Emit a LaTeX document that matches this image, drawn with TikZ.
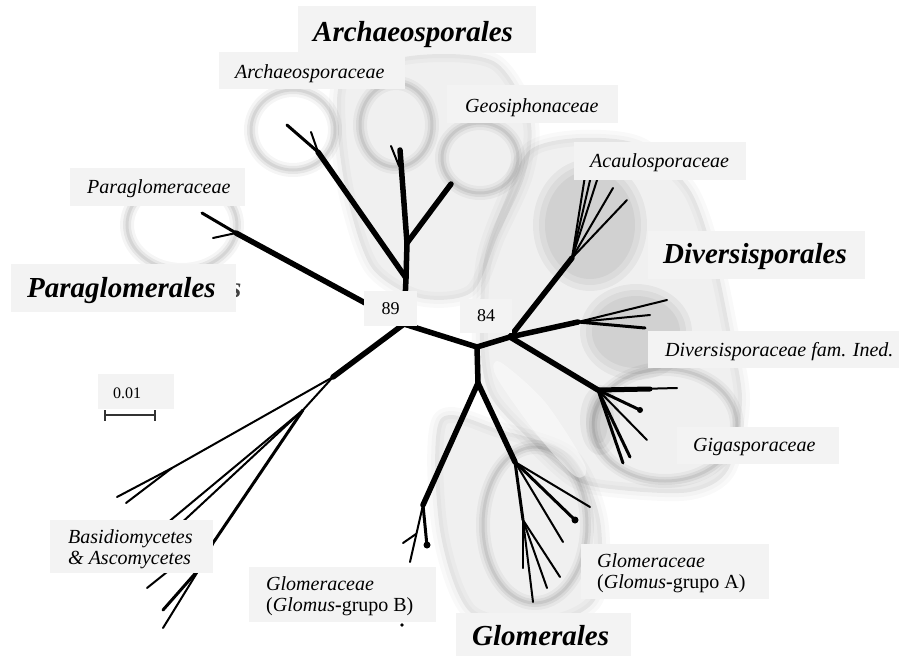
\documentclass[tikz,border=0pt]{standalone}
\usepackage{fontspec}
\setmainfont{Liberation Serif}
\definecolor{boxgray}{RGB}{243,243,243}
\newcommand{\softell}[4]{%
  \foreach \d in {0,6,12} {\fill[black, opacity=0.045] (#1,#2) ellipse [x radius=#3-\d, y radius=#4-\d];}}
\newcommand{\softring}[4]{%
  \foreach \w/\o in {14/0.04, 8/0.06, 3/0.07} {\draw[black, opacity=\o, line width=\w pt] (#1,#2) ellipse [x radius=#3, y radius=#4];}}
\newcommand{\softregion}[1]{%
  \foreach \w/\o in {16/0.025, 8/0.025} {\draw[black, opacity=\o, line width=\w pt, line join=round] plot[smooth cycle] coordinates {#1};}
  \fill[black, opacity=0.06] plot[smooth cycle] coordinates {#1};}
\begin{document}
\begin{tikzpicture}[x=1pt,y=-1pt,
  br/.style={line width=5.5pt, line cap=round, line join=round},
  mid/.style={line width=3pt, line cap=round, line join=round},
  tw/.style={line width=2pt, line cap=round, line join=round},
  lab/.style={fill=boxgray},
  fam/.style={font=\fontsize{20}{22}\selectfont\itshape, anchor=base west, inner sep=0pt},
  famup/.style={font=\fontsize{20}{22}\selectfont, anchor=base west, inner sep=0pt},
  ord/.style={font=\fontsize{29}{31}\selectfont\bfseries\itshape, anchor=base west, inner sep=0pt},
  num/.style={font=\fontsize{18}{20}\selectfont, inner sep=0pt},
]
\useasboundingbox (0,0) rectangle (899,656);
\fill[white] (0,0) rectangle (899,656);

% ---------- background shading ----------
% top cluster
\softregion{(345,75) (420,55) (495,62) (530,120) (525,175) (498,235) (472,292) (420,298) (372,268) (348,200) (338,130)}
\softring{293}{130}{42}{40}
\softring{396}{125}{36}{42}
\softring{480}{158}{38}{35}
% Paraglomeraceae
\softring{182}{225}{55}{45}
% Diversisporales region
\softregion{(530,150) (580,138) (640,145) (690,190) (715,260) (730,330) (742,400) (728,470) (690,492) (620,490) (575,480) (530,440) (490,395) (480,340) (484,260) (505,200)}
\softell{590}{225}{57}{66}
\softell{636}{332}{56}{48}
\softring{665}{425}{72}{56}
\softell{600}{420}{20}{35}
% Glomerales region
\softregion{(440,420) (500,430) (570,455) (600,520) (595,600) (540,625) (470,612) (440,530)}
\softring{535}{525}{52}{78}
% lighter streak between Glomus A and Gigaspora
\fill[white, opacity=0.45] plot[smooth cycle] coordinates {(500,362) (545,402) (585,465) (575,476) (535,432) (496,376)};

% ---------- tree ----------
\coordinate (A) at (404,324);
\coordinate (B) at (477,347);
\coordinate (C) at (510,337);
\coordinate (D) at (478,383);

% Paraglomerales
\coordinate (Pg) at (202,213);
\coordinate (Pgm) at (236,233);
\coordinate (Pgs) at (213,238);
\draw[br] (A) -- (Pgm);
\draw[mid] (Pgm) -- (Pg);
\draw[tw] (Pgm) -- (Pgs);

% Archaeosporales
\coordinate (Ar1) at (406,278);
\coordinate (Ar2) at (407,243);
\coordinate (ArT) at (400,150);
\coordinate (ArTs) at (399,166);
\coordinate (ArTst) at (391,146);
\coordinate (ArL) at (287,125);
\coordinate (ArLs) at (318,152);
\coordinate (ArLst) at (311,132);
\coordinate (ArR) at (451,184);
\draw[br] (A) -- (Ar1) -- (Ar2) -- (ArT);
\draw[br] (Ar1) -- (ArLs);
\draw[mid] (ArLs) -- (ArL);
\draw[tw] (ArLs) -- (ArLst);
\draw[tw] (ArTs) -- (ArTst);
\draw[br] (Ar2) -- (ArR);

% outgroup
\coordinate (L1) at (333,377);
\coordinate (Ja) at (172,468);
\coordinate (Jb) at (303,410);
\coordinate (La) at (117,497);
\coordinate (Lb) at (126,503);
\coordinate (Lc1) at (166,524);
\coordinate (Lc2) at (167,572);
\coordinate (Lc) at (147,588);
\coordinate (Ld1) at (213,543);
\coordinate (Ld2) at (200,568);
\coordinate (Ld) at (163,610);
\coordinate (Le) at (163,628);
\coordinate (Lf) at (176,528);
\draw[br] (A) -- (L1);
\draw[tw] (L1) -- (Ja) -- (La);
\draw[tw] (Ja) -- (Lb);
\draw[tw] (L1) -- (Jb) -- (Lc1) -- (Lc2) -- (Lc);
\draw[tw] (Jb) -- (Lf);
\draw[mid] (Jb) -- (Ld1) -- (Ld2) -- (Ld);
\draw[tw] (Ld2) -- (Le);

% centre
\draw[br] (A) -- (B) -- (C);
\draw[br] (B) -- (D);

% Acaulosporaceae
\coordinate (Ac) at (572,258);
\draw[br] (C) -- (Ac);
\draw[tw] (Ac) -- (585,176);
\draw[tw] (Ac) -- (591,176);
\draw[tw] (Ac) -- (598,177);
\draw[tw] (Ac) -- (613,188);
\draw[tw] (Ac) -- (627,200);

% Diversisporaceae
\coordinate (Dv) at (578,322);
\draw[br] (C) -- (Dv);
\draw[tw] (Dv) -- (667,300);
\draw[tw] (Dv) -- (650,315);
\draw[mid] (Dv) -- (645,328);

% Gigasporaceae
\coordinate (Gg) at (598,390);
\draw[br] (C) -- (Gg);
\draw[line width=5pt, line cap=round] (Gg) -- (650,389);
\draw[tw] (Gg) -- (677,388);
\draw[mid] (Gg) -- (640,410);
\fill (640,410) circle (3pt);
\draw[tw] (Gg) -- (647,440);
\draw[mid] (Gg) -- (630,457);
\draw[mid] (Gg) -- (623,463);

% Glomus B
\coordinate (Gb) at (423,505);
\draw[br] (D) -- (Gb);
\draw[tw] (Gb) -- (410,562);
\draw[tw] (416,534) -- (403,543);
\draw[mid] (Gb) -- (427,546);
\fill (427,545) circle (3.5pt);

% Glomus A
\coordinate (Ga) at (515,462);
\coordinate (Ga2) at (523,520);
\draw[br] (D) -- (Ga);
\draw[tw] (Ga) -- (590,507);
\draw[mid] (Ga) -- (575,520);
\fill (575,520) circle (3.5pt);
\draw[tw] (Ga) -- (563,542);
\draw[mid] (Ga) -- (Ga2);
\draw[tw] (Ga2) -- (533,602);
\draw[tw] (Ga2) -- (547,588);
\draw[tw] (Ga2) -- (560,577);
\draw[tw] (Ga2) -- (523,568);

\fill (402,625) circle (1.8pt);

% ---------- scale bar ----------
\coordinate (sb1) at (105,415);
\coordinate (sb2) at (155,415);
\draw[line width=2.5pt, draw=black!80] (sb1) -- (sb2);
\draw[line width=2pt, draw=black!80] (105,410) -- (105,421);
\draw[line width=2pt, draw=black!80] (155,410) -- (155,421);

% ---------- label boxes ----------
\node[font=\fontsize{29}{31}\selectfont\bfseries\itshape, text=black!75, inner sep=0pt, anchor=base west] (sfrag) at (230,297) {s};
\fill[lab] (298,6) rectangle (536,53);
\fill[lab] (219,52) rectangle (405,89);
\fill[lab] (447,85) rectangle (618,123);
\fill[lab] (574,142) rectangle (746,180);
\fill[lab] (648,231) rectangle (865,279);
\fill[lab] (70,168) rectangle (245,206);
\fill[lab] (11,264) rectangle (236,312);
\fill[lab] (364,291) rectangle (417,326);
\fill[lab] (460,299) rectangle (512,333);
\fill[lab] (98,374) rectangle (174,409);
\fill[lab] (648,331) rectangle (899,368);
\fill[lab] (677,427) rectangle (839,464);
\fill[lab] (50,520) rectangle (213,573);
\fill[lab] (249,567) rectangle (436,622);
\fill[lab] (581,544) rectangle (769,599);
\fill[lab] (456,613) rectangle (631,656);

% ---------- texts ----------
\node[ord] (archO) at (313,41) {Archaeosporales};
\node[fam] (archF) at (235,78) {Archaeosporaceae};
\node[fam] (geo) at (465,112) {Geosiphonaceae};
\node[fam] (acau) at (590,167) {Acaulosporaceae};
\node[ord] (divO) at (663,263) {Diversisporales};
\node[fam] (paraF) at (87,193) {Paraglomeraceae};
\node[ord] (paraO) at (27,297) {Paraglomerales};
\node[num] (n89) at (390.5,308.5) {89};
\node[num] (n84) at (486,316) {84};
\node[font=\fontsize{16}{18}\selectfont, inner sep=0pt, anchor=base west] (scale) at (113,398) {0.01};
\node[fam] (divF) at (665,356) {Diversisporaceae fam. Ined.};
\node[fam] (giga) at (693,451) {Gigasporaceae};
\node[fam] (basA) at (68,543) {Basidiomycetes};
\node[fam] (basB) at (68,564) {\& Ascomycetes};
\node[fam] (glBa) at (266,590) {Glomeraceae};
\node[famup] (glBb) at (266,611) {(\textit{Glomus}\textbf{-}grupo B)};
\node[fam] (glAa) at (597,567) {Glomeraceae};
\node[famup] (glAb) at (597,588) {(\textit{Glomus}\textbf{-}grupo A)};
\node[ord] (glO) at (472,645) {Glomerales};
\end{tikzpicture}
\end{document}
